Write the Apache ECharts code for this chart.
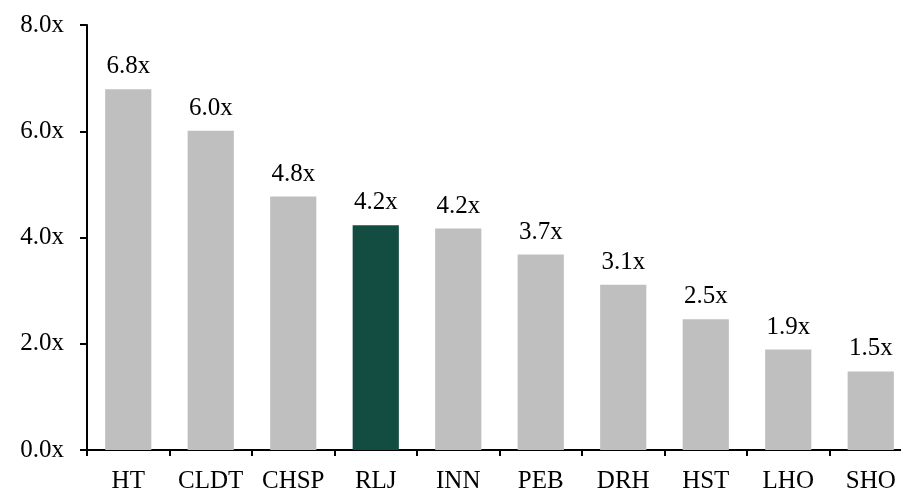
<!DOCTYPE html>
<html>
<head>
<meta charset="utf-8">
<script src="https://cdn.jsdelivr.net/npm/echarts@6/dist/echarts.min.js"></script>
<style>html,body{margin:0;padding:0;background:#fff;overflow:hidden}#c{width:912px;height:494px}</style>
</head>
<body>
<div id="c"></div>
<script>
const categories = ['HT','CLDT','CHSP','RLJ','INN','PEB','DRH','HST','LHO','SHO'];
const values = [6.79, 6.01, 4.77, 4.23, 4.17, 3.68, 3.11, 2.46, 1.89, 1.48];
const highlight = 'RLJ';
const yTicks = [0, 2, 4, 6, 8];

const FONT = '"Liberation Serif", "Times New Roman", serif';
const chart = echarts.init(document.getElementById('c'), null, {renderer: 'canvas'});
chart.setOption({
  animation: false,
  grid: {left: 87, top: 25, bottom: 44, right: 0, containLabel: false},
  xAxis: {
    type: 'category',
    data: categories,
    axisLine: {lineStyle: {color: '#000', width: 2}},
    axisTick: {show: true, interval: 0, length: 6, lineStyle: {color: '#000', width: 2}},
    axisLabel: {color: '#000', fontFamily: FONT, fontSize: 25, margin: 19, interval: 0}
  },
  yAxis: {
    type: 'value',
    min: yTicks[0], max: yTicks[yTicks.length - 1], interval: 2,
    splitLine: {show: false},
    axisLine: {show: true, lineStyle: {color: '#000', width: 2}},
    axisTick: {show: true, length: 7, lineStyle: {color: '#000', width: 2}},
    axisLabel: {color: '#000', fontFamily: FONT, fontSize: 25, margin: 23,
      formatter: v => v.toFixed(1) + 'x'}
  },
  series: [{
    type: 'bar',
    barWidth: '56%',
    data: values.map((v, i) => ({
      value: v,
      itemStyle: {color: categories[i] === highlight ? '#134D42' : '#BFBFBF'}
    })),
    label: {
      show: true, position: 'top', distance: 10,
      color: '#000', fontFamily: FONT, fontSize: 25,
      formatter: p => p.value.toFixed(1) + 'x'
    }
  }]
});
</script>
</body>
</html>
